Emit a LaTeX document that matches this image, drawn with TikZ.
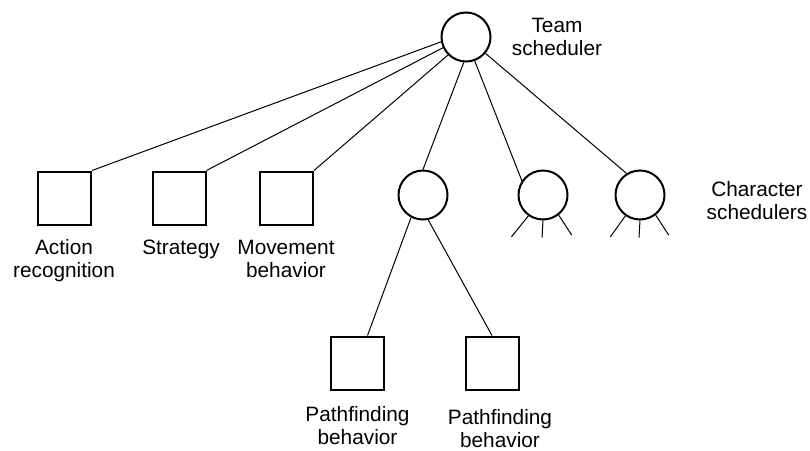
\documentclass[tikz,border=0pt]{standalone}
\usepackage{fontspec}
\setmainfont{Liberation Sans}
\usetikzlibrary{calc}
\begin{document}
\begin{tikzpicture}[x=1pt,y=-1pt,
  sqbox/.style={draw,line width=2pt,minimum size=53pt,inner sep=0pt},
  cnode/.style={draw,circle,line width=2pt,minimum size=49pt,inner sep=0pt},
  conn/.style={line width=1pt},
  lbl/.style={align=center,anchor=base,inner sep=0pt,font={\fontsize{20.8}{23}\selectfont}}]
\useasboundingbox (0,0) rectangle (810,450);
% nodes
\node[cnode] (top) at (466,37) {};
\node[cnode] (c1) at (423,195) {};
\node[cnode] (c2) at (543,195) {};
\node[cnode] (c3) at (640,195) {};
\node[sqbox] (sqA) at (64.5,198) {};
\node[sqbox] (sqS) at (179,198) {};
\node[sqbox] (sqM) at (286.5,198) {};
\node[sqbox] (pf1) at (357.5,363) {};
\node[sqbox] (pf2) at (492,363) {};
% labels (base anchor = baseline of last line)
\node[lbl] (ltop) at (557,55) {Team\\scheduler};
\node[lbl] (lchar) at (757,219) {Character\\schedulers};
\node[lbl] (lA) at (64,277) {Action\\recognition};
\node[lbl] (lS) at (181,254) {Strategy};
\node[lbl] (lM) at (286,277) {Movement\\behavior};
\node[lbl] (lp1) at (357.5,444) {Pathfinding\\behavior};
\node[lbl] (lp2) at (500,447) {Pathfinding\\behavior};
% connectors
\draw[conn] (top.191) -- (sqA.north east);
\draw[conn] (top.205) -- (sqS.north east);
\draw[conn] (top.225) -- (sqM.north east);
\draw[conn] (top.265) -- (c1.90);
\draw[conn] (top.290) -- (c2.146);
\draw[conn] (top.320) -- (c3.122);
\draw[conn] (c1.242) -- ($(pf1.north)+(10,0)$);
\draw[conn] (c1.282) -- (pf2.north);
% character scheduler legs
\draw[conn] (c2.235) -- ++(-17,21);
\draw[conn] (c2.270) -- ++(-1,17);
\draw[conn] (c2.308) -- ++(13,20);
\draw[conn] (c3.235) -- ++(-15,21);
\draw[conn] (c3.270) -- ++(-1,17);
\draw[conn] (c3.308) -- ++(13,20);
\end{tikzpicture}
\end{document}
